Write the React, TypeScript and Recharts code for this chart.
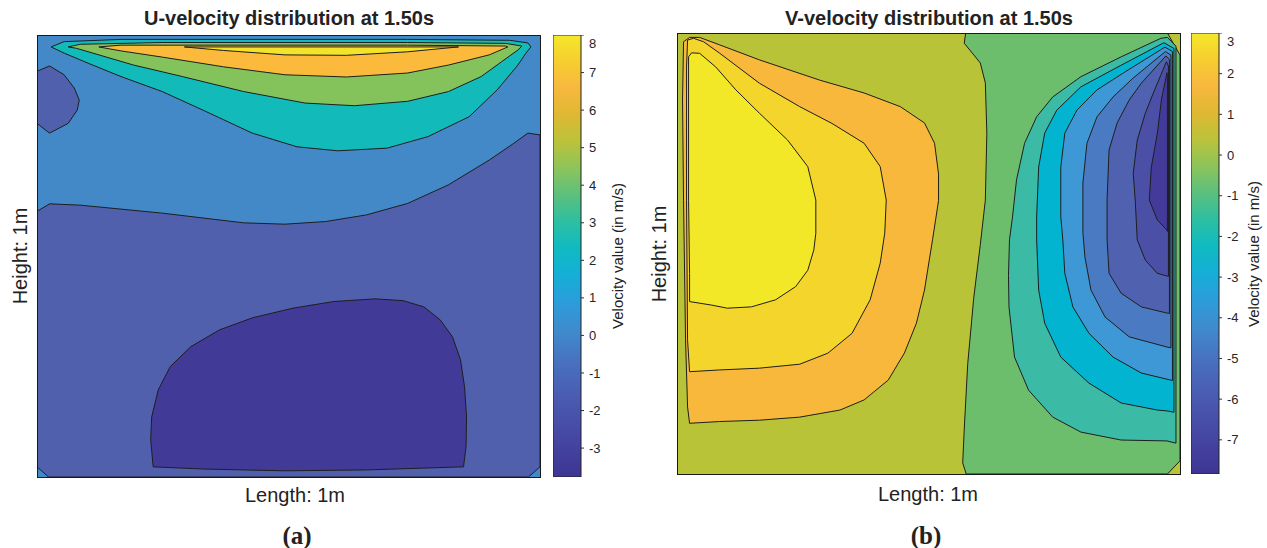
import React from "react";
import { ScatterChart, Scatter, XAxis, YAxis, ComposedChart, Bar } from "recharts";

type Pt = [number, number];

// ---- U-velocity contour boundaries (x: length, y: height, both 0..1) ----
const uFrame: Pt[] = [[0, 0], [1, 0], [1, 1], [0, 1]];
const uLowerBand: Pt[] = [
  [0, 0.023], [0, 0.601], [0.025, 0.618], [0.086, 0.615], [0.249, 0.597], [0.411, 0.575],
  [0.493, 0.572], [0.574, 0.578], [0.655, 0.593], [0.737, 0.619], [0.818, 0.661], [0.899, 0.717],
  [0.948, 0.755], [0.976, 0.778], [1, 0.774], [1, 0.023], [0.977, 0], [0.023, 0],
];
const uLeftBlob: Pt[] = [
  [0, 0.918], [0.025, 0.93], [0.054, 0.91], [0.074, 0.88], [0.084, 0.853], [0.08, 0.83],
  [0.062, 0.8], [0.025, 0.778], [0, 0.8],
];
const uCore: Pt[] = [
  [0.231, 0.023], [0.226, 0.084], [0.228, 0.136], [0.241, 0.197], [0.265, 0.25], [0.306, 0.295],
  [0.363, 0.333], [0.428, 0.36], [0.509, 0.382], [0.59, 0.397], [0.672, 0.403], [0.728, 0.399],
  [0.769, 0.385], [0.802, 0.355], [0.826, 0.317], [0.842, 0.265], [0.85, 0.204], [0.854, 0.136],
  [0.853, 0.069], [0.848, 0.023], [0.655, 0.016], [0.493, 0.014], [0.33, 0.018],
];
const uTeal: Pt[] = [
  [0.028, 0.973], [0.054, 0.985], [0.167, 0.99], [0.737, 0.99], [0.94, 0.988], [0.976, 0.982],
  [0.982, 0.973], [0.972, 0.959], [0.956, 0.932], [0.915, 0.876], [0.859, 0.815], [0.777, 0.77],
  [0.696, 0.744], [0.598, 0.738], [0.517, 0.747], [0.428, 0.778], [0.33, 0.83], [0.249, 0.872],
  [0.167, 0.906], [0.102, 0.936], [0.054, 0.959],
];
const uGreen: Pt[] = [
  [0.062, 0.973], [0.086, 0.979], [0.249, 0.983], [0.737, 0.983], [0.932, 0.981], [0.964, 0.975],
  [0.956, 0.966], [0.923, 0.939], [0.883, 0.906], [0.818, 0.872], [0.737, 0.85], [0.631, 0.84],
  [0.533, 0.846], [0.411, 0.872], [0.289, 0.906], [0.192, 0.932], [0.111, 0.959], [0.078, 0.97],
];
const uOrange: Pt[] = [
  [0.123, 0.973], [0.167, 0.977], [0.737, 0.977], [0.932, 0.975], [0.936, 0.973], [0.899, 0.955],
  [0.818, 0.932], [0.737, 0.914], [0.615, 0.905], [0.493, 0.91], [0.371, 0.928], [0.249, 0.95],
  [0.167, 0.964],
];
const uYellow: Pt[] = [
  [0.293, 0.973], [0.838, 0.973], [0.737, 0.962], [0.615, 0.954], [0.493, 0.955], [0.371, 0.965],
];

// ---- V-velocity contour boundaries ----
const vFrame: Pt[] = [[0, 0], [1, 0], [1, 1], [0, 1]];
const vOrange: Pt[] = [
  [0.025, 0.115], [0.085, 0.119], [0.164, 0.122], [0.244, 0.129], [0.324, 0.145], [0.372, 0.168],
  [0.42, 0.213], [0.452, 0.274], [0.476, 0.342], [0.492, 0.417], [0.508, 0.531], [0.52, 0.62],
  [0.52, 0.68], [0.512, 0.75], [0.492, 0.796], [0.444, 0.833], [0.372, 0.864], [0.284, 0.893],
  [0.164, 0.939], [0.085, 0.973], [0.045, 0.99], [0.025, 0.99], [0.013, 0.98], [0.011, 0.848],
  [0.013, 0.621], [0.017, 0.304], [0.021, 0.152],
];
const vGold: Pt[] = [
  [0.025, 0.232], [0.085, 0.236], [0.164, 0.24], [0.244, 0.249], [0.3, 0.274], [0.348, 0.319],
  [0.384, 0.395], [0.404, 0.478], [0.413, 0.546], [0.416, 0.621], [0.404, 0.697], [0.372, 0.75],
  [0.308, 0.795], [0.244, 0.833], [0.164, 0.886], [0.085, 0.954], [0.053, 0.98], [0.033, 0.988],
  [0.021, 0.984], [0.019, 0.923], [0.019, 0.621], [0.021, 0.304],
];
const vYellow: Pt[] = [
  [0.025, 0.391], [0.069, 0.383], [0.1, 0.376], [0.148, 0.379], [0.196, 0.395], [0.236, 0.425],
  [0.26, 0.462], [0.272, 0.508], [0.276, 0.546], [0.276, 0.621], [0.26, 0.697], [0.22, 0.757],
  [0.164, 0.818], [0.117, 0.871], [0.077, 0.923], [0.045, 0.954], [0.029, 0.955], [0.023, 0.946],
  [0.023, 0.621], [0.025, 0.455],
];
const vGreen: Pt[] = [
  [0.574, 1], [0.571, 0.977], [0.603, 0.932], [0.613, 0.887], [0.616, 0.773], [0.613, 0.621],
  [0.603, 0.52], [0.59, 0.4], [0.578, 0.25], [0.571, 0.1], [0.568, 0.025], [0.575, 0],
  [0.975, 0], [1, 0.03], [1, 0.95], [0.975, 1],
];
const vTeal: Pt[] = [
  [0.975, 0.99], [0.962, 0.988], [0.883, 0.946], [0.803, 0.901], [0.747, 0.855], [0.715, 0.81],
  [0.691, 0.75], [0.675, 0.667], [0.667, 0.583], [0.661, 0.531], [0.659, 0.45], [0.66, 0.379],
  [0.671, 0.265], [0.699, 0.19], [0.747, 0.129], [0.803, 0.095], [0.883, 0.077], [0.974, 0.075],
  [0.992, 0.07], [0.992, 0.97],
];
const vCyan: Pt[] = [
  [0.968, 0.978], [0.883, 0.927], [0.803, 0.878], [0.755, 0.825], [0.731, 0.773], [0.719, 0.696],
  [0.715, 0.583], [0.715, 0.531], [0.719, 0.417], [0.731, 0.342], [0.763, 0.265], [0.819, 0.206],
  [0.883, 0.161], [0.955, 0.145], [0.974, 0.143], [0.988, 0.14], [0.988, 0.965],
];
const vLightBlue: Pt[] = [
  [0.97, 0.968], [0.891, 0.912], [0.835, 0.871], [0.795, 0.825], [0.771, 0.773], [0.763, 0.696],
  [0.763, 0.583], [0.767, 0.531], [0.771, 0.455], [0.787, 0.379], [0.819, 0.319], [0.867, 0.265],
  [0.923, 0.229], [0.974, 0.215], [0.985, 0.212], [0.985, 0.958],
];
const vBlue: Pt[] = [
  [0.971, 0.958], [0.906, 0.897], [0.867, 0.855], [0.835, 0.81], [0.815, 0.75], [0.807, 0.66],
  [0.807, 0.546], [0.811, 0.492], [0.823, 0.417], [0.851, 0.356], [0.899, 0.311], [0.974, 0.288],
  [0.982, 0.286], [0.982, 0.95],
];
const vIndigo: Pt[] = [
  [0.972, 0.948], [0.923, 0.886], [0.899, 0.848], [0.875, 0.796], [0.859, 0.735], [0.855, 0.621],
  [0.855, 0.531], [0.859, 0.455], [0.883, 0.41], [0.923, 0.379], [0.974, 0.365], [0.979, 0.364],
  [0.979, 0.94],
];
const vPurple: Pt[] = [
  [0.973, 0.935], [0.947, 0.864], [0.931, 0.818], [0.915, 0.757], [0.907, 0.682], [0.911, 0.621],
  [0.915, 0.531], [0.931, 0.485], [0.955, 0.455], [0.974, 0.449], [0.977, 0.448], [0.977, 0.925],
];
const vCore: Pt[] = [
  [0.974, 0.91], [0.963, 0.848], [0.955, 0.773], [0.943, 0.696], [0.939, 0.621], [0.955, 0.576],
  [0.974, 0.553], [0.975, 0.55], [0.975, 0.9],
];

// colour bar ranges and ticks
const uRange: [number, number] = [-3.77, 8];
const uTicks = [-3, -2, -1, 0, 1, 2, 3, 4, 5, 6, 7, 8];
const vRange: [number, number] = [-7.84, 3];
const vTicks = [-7, -6, -5, -4, -3, -2, -1, 0, 1, 2, 3];

const parula: [number, string][] = [
  [0, "#3e3592"], [0.08, "#4545a2"], [0.17, "#4a59b0"], [0.26, "#4871bf"], [0.33, "#408acd"],
  [0.4, "#2a9edb"], [0.46, "#14afd6"], [0.52, "#10bbc0"], [0.58, "#2fbfa0"], [0.64, "#5dc07c"],
  [0.7, "#8ec45a"], [0.76, "#bcc23a"], [0.82, "#dfb833"], [0.88, "#f8b83f"], [0.94, "#f7cd30"],
  [1, "#f4e82a"],
];

type Layer = { name: string; points: Pt[]; color: string; edge: boolean };

const uLayers: Layer[] = [
  { name: "bg", points: uFrame, color: "#4389c8", edge: false },
  { name: "lower", points: uLowerBand, color: "#5060ad", edge: true },
  { name: "blob", points: uLeftBlob, color: "#5060ad", edge: true },
  { name: "core", points: uCore, color: "#423a97", edge: true },
  { name: "teal", points: uTeal, color: "#12bbba", edge: true },
  { name: "green", points: uGreen, color: "#84c35b", edge: true },
  { name: "orange", points: uOrange, color: "#fbba3b", edge: true },
  { name: "yellow", points: uYellow, color: "#f3e32b", edge: true },
];

const vLayers: Layer[] = [
  { name: "bg", points: vFrame, color: "#b8c337", edge: false },
  { name: "orange", points: vOrange, color: "#f7b83c", edge: true },
  { name: "gold", points: vGold, color: "#f4d52b", edge: true },
  { name: "yellow", points: vYellow, color: "#f2e828", edge: true },
  { name: "green", points: vGreen, color: "#6cbe6d", edge: true },
  { name: "teal", points: vTeal, color: "#3bbba5", edge: true },
  { name: "cyan", points: vCyan, color: "#02b4cf", edge: true },
  { name: "lightblue", points: vLightBlue, color: "#3e98d6", edge: true },
  { name: "blue", points: vBlue, color: "#4a7bc2", edge: true },
  { name: "indigo", points: vIndigo, color: "#5062af", edge: true },
  { name: "purple", points: vPurple, color: "#4b4fa5", edge: true },
  { name: "core", points: vCore, color: "#433b99", edge: true },
];

const sans = '"Liberation Sans", Arial, Helvetica, sans-serif';
const serif = '"Liberation Serif", "Times New Roman", serif';

const toPoints = (pts: Pt[]) => pts.map(([x, y]) => ({ x, y }));
const NoDot = () => <g />;

function ContourPlot({ layers, width, height }: { layers: Layer[]; width: number; height: number }) {
  return (
    <ScatterChart width={width} height={height} margin={{ top: 0, right: 0, bottom: 0, left: 0 }}>
      <XAxis type="number" dataKey="x" domain={[0, 1]} hide allowDataOverflow />
      <YAxis type="number" dataKey="y" domain={[0, 1]} hide allowDataOverflow />
      {layers.map((l) => (
        <Scatter
          key={l.name}
          data={toPoints(l.points)}
          lineType="joint"
          lineJointType="linearClosed"
          line={{ fill: l.color, stroke: l.edge ? "#1e1e1e" : "none", strokeWidth: 1 }}
          shape={NoDot}
          legendType="none"
          isAnimationActive={false}
        />
      ))}
    </ScatterChart>
  );
}

function ColorBar({ id, range, ticks, height }: { id: string; range: [number, number]; ticks: number[]; height: number }) {
  const data = [{ name: "cb", value: range }];
  return (
    <ComposedChart width={80} height={height} data={data} margin={{ top: 0, right: 0, bottom: 0, left: 0 }} barCategoryGap={0}>
      <defs>
        <linearGradient id={id} x1="0" y1="1" x2="0" y2="0">
          {parula.map(([t, c]) => (
            <stop key={t} offset={t} stopColor={c} />
          ))}
        </linearGradient>
      </defs>
      <XAxis dataKey="name" type="category" hide />
      <YAxis
        orientation="right"
        type="number"
        domain={range}
        ticks={ticks}
        allowDataOverflow
        width={52}
        axisLine={false}
        tickSize={3}
        tickMargin={5}
        tickLine={{ stroke: "#333" }}
        tick={{ fontSize: 13, fill: "#262626", fontFamily: sans }}
      />
      <Bar dataKey="value" fill={`url(#${id})`} stroke="#222" strokeWidth={1} isAnimationActive={false} />
    </ComposedChart>
  );
}

function Text({ x, y, children, size, bold, rotate, font }: { x: number; y: number; children: React.ReactNode; size: number; bold?: boolean; rotate?: boolean; font?: string }) {
  return (
    <div
      style={{
        position: "absolute",
        left: x,
        top: y,
        transform: `translate(-50%, -50%)${rotate ? " rotate(-90deg)" : ""}`,
        whiteSpace: "nowrap",
        fontSize: size,
        fontWeight: bold ? 700 : 400,
        fontFamily: font ?? sans,
        color: "#222",
        lineHeight: 1,
      }}
    >
      {children}
    </div>
  );
}

function Frame({ x, y, w, h }: { x: number; y: number; w: number; h: number }) {
  return (
    <div style={{ position: "absolute", left: x, top: y, width: w, height: h, border: "1px solid #1a1a1a", boxSizing: "border-box", pointerEvents: "none" }} />
  );
}

export default function App() {
  return (
    <div style={{ position: "absolute", left: 0, top: 0, width: 1267, height: 548, background: "#fff", overflow: "hidden" }}>
      {/* panel (a) */}
      <Text x={289} y={18} size={20} bold>U-velocity distribution at 1.50s</Text>
      <div style={{ position: "absolute", left: 37, top: 35 }}>
        <ContourPlot layers={uLayers} width={503} height={442} />
      </div>
      <Frame x={37} y={35} w={504} h={443} />
      <div style={{ position: "absolute", left: 553, top: 35 }}>
        <ColorBar id="gradU" range={uRange} ticks={uTicks} height={442} />
      </div>
      <Text x={617} y={256} size={15} rotate>Velocity value (in m/s)</Text>
      <Text x={295} y={495} size={20}>Length: 1m</Text>
      <Text x={20} y={256} size={20} rotate>Height: 1m</Text>
      <Text x={297} y={535} size={25} bold font={serif}>(a)</Text>

      {/* panel (b) */}
      <Text x={929} y={18} size={20} bold>V-velocity distribution at 1.50s</Text>
      <div style={{ position: "absolute", left: 677, top: 33 }}>
        <ContourPlot layers={vLayers} width={503} height={441} />
      </div>
      <Frame x={677} y={33} w={504} h={442} />
      <div style={{ position: "absolute", left: 1191, top: 33 }}>
        <ColorBar id="gradV" range={vRange} ticks={vTicks} height={441} />
      </div>
      <Text x={1253} y={254} size={15} rotate>Velocity value (in m/s)</Text>
      <Text x={928} y={494} size={20}>Length: 1m</Text>
      <Text x={659} y={254} size={20} rotate>Height: 1m</Text>
      <Text x={926} y={535} size={25} bold font={serif}>(b)</Text>
    </div>
  );
}
